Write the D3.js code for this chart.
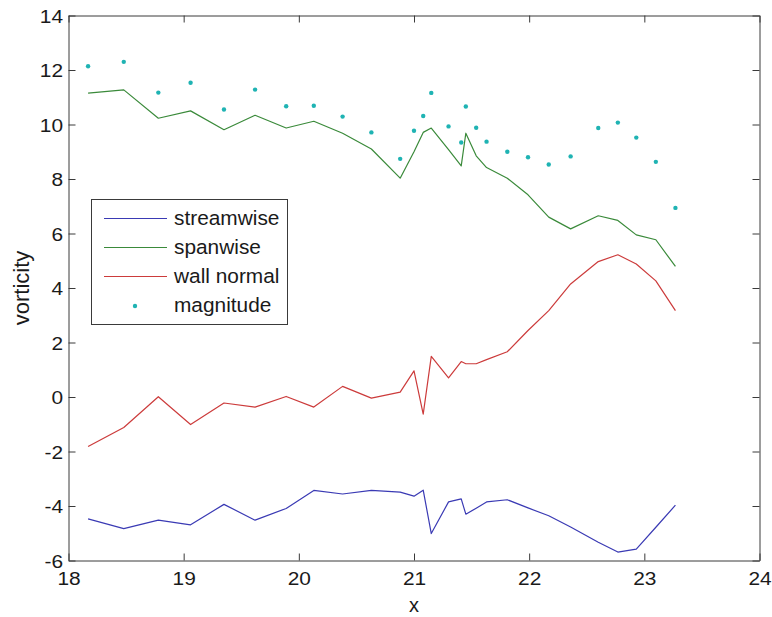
<!DOCTYPE html>
<html>
<head>
<meta charset="utf-8">
<script src="https://d3js.org/d3.v7.min.js"></script>
<style>
  html, body { margin: 0; padding: 0; background: #fff; }
  svg { display: block; }
  text { font-family: "Liberation Sans", Arial, sans-serif; fill: #1a1a1a; }
</style>
</head>
<body>
<svg id="chart" width="772" height="617"></svg>
<script>
// ---- data ----
const xValues = [18.17, 18.48, 18.78, 19.06, 19.35, 19.62, 19.89, 20.13, 20.38, 20.63, 20.88, 21.00, 21.08, 21.15,
                 21.30, 21.41, 21.45, 21.54, 21.63, 21.81, 21.99, 22.17, 22.36, 22.60, 22.77, 22.93, 23.10, 23.27];
const streamwise = [-4.47, -4.83, -4.52, -4.69, -3.94, -4.52, -4.09, -3.43, -3.56, -3.43, -3.49, -3.64, -3.42, -5.01,
                    -3.85, -3.74, -4.30, -4.08, -3.85, -3.77, -4.07, -4.36, -4.77, -5.33, -5.69, -5.58, -4.78, -3.97];
const spanwise = [11.15, 11.27, 10.23, 10.50, 9.81, 10.34, 9.87, 10.12, 9.68, 9.10, 8.03, 9.00, 9.71, 9.87,
                  9.08, 8.48, 9.68, 8.85, 8.42, 8.03, 7.42, 6.60, 6.17, 6.65, 6.48, 5.95, 5.77, 4.79];
const wallNormal = [-1.82, -1.12, 0.01, -1.01, -0.22, -0.37, 0.02, -0.37, 0.39, -0.04, 0.18, 0.96, -0.63, 1.49,
                    0.70, 1.30, 1.22, 1.22, 1.37, 1.66, 2.44, 3.17, 4.15, 4.97, 5.22, 4.88, 4.26, 3.17];
const magnitude = [12.14, 12.30, 11.17, 11.53, 10.55, 11.28, 10.67, 10.69, 10.29, 9.71, 8.74, 9.77, 10.31, 11.16,
                   9.93, 9.34, 10.66, 9.88, 9.37, 9.00, 8.80, 8.53, 8.83, 9.87, 10.07, 9.52, 8.63, 6.94];
const xTicks = [18, 19, 20, 21, 22, 23, 24];
const yTicks = [-6, -4, -2, 0, 2, 4, 6, 8, 10, 12, 14];
const seriesNames = ["streamwise", "spanwise", "wall normal", "magnitude"];

// ---- layout ----
const svg = d3.select("#chart");
const L = 68.5, R = 759.5, T = 15.5, B = 560.5;
const x = d3.scaleLinear().domain([18, 24]).range([L, R]);
const y = d3.scaleLinear().domain([-6, 14]).range([B, T]);
const axisColor = "#3a3a3a";
const stretch = 1.13;
const plainFormat = d => String(d);   // hyphen-minus like the reference

function styleAxis(g) {
  g.selectAll("path.domain").attr("stroke", axisColor).attr("stroke-width", 1);
  g.selectAll(".tick line").attr("stroke", axisColor).attr("stroke-width", 1);
}

// box axes (ticks inward)
const gBottom = svg.append("g").attr("transform", `translate(0,${B})`)
  .call(d3.axisBottom(x).tickValues(xTicks).tickSizeInner(-7).tickSizeOuter(0).tickPadding(11).tickFormat(plainFormat));
const gTop = svg.append("g").attr("transform", `translate(0,${T})`)
  .call(d3.axisTop(x).tickValues(xTicks).tickSizeInner(-7).tickSizeOuter(0).tickFormat(""));
const gLeft = svg.append("g").attr("transform", `translate(${L},0)`)
  .call(d3.axisLeft(y).tickValues(yTicks).tickSizeInner(-7).tickSizeOuter(0).tickPadding(6).tickFormat(plainFormat));
const gRight = svg.append("g").attr("transform", `translate(${R},0)`)
  .call(d3.axisRight(y).tickValues(yTicks).tickSizeInner(-7).tickSizeOuter(0).tickFormat(""));
[gBottom, gTop, gLeft, gRight].forEach(styleAxis);

gBottom.selectAll(".tick text")
  .attr("font-family", "Liberation Sans, Arial, sans-serif")
  .attr("font-size", 18.5).attr("fill", "#1a1a1a")
  .attr("y", 11).attr("dy", "0.71em")
  .attr("transform", `scale(${stretch},1)`);
gLeft.selectAll(".tick text")
  .attr("font-family", "Liberation Sans, Arial, sans-serif")
  .attr("font-size", 18.5).attr("fill", "#1a1a1a")
  .attr("x", -5.5 / stretch).attr("dy", "0.36em")
  .attr("transform", `scale(${stretch},1)`);

// axis labels
svg.append("text").attr("x", (L + R) / 2).attr("y", 612)
  .attr("text-anchor", "middle").attr("font-size", 20).text("x");
svg.append("text")
  .attr("transform", `translate(29,${(T + B) / 2}) rotate(-90)`)
  .attr("text-anchor", "middle").attr("font-size", 22).text("vorticity");

// ---- series ----
const colors = {
  streamwise: "#3a3ab4",
  spanwise: "#3a8a3a",
  wallNormal: "#cc3b3b",
  magnitude: "#1fb3b3"
};
const line = d3.line().x((d, i) => x(xValues[i])).y(d => y(d));
const plot = svg.append("g");
[[streamwise, colors.streamwise], [spanwise, colors.spanwise], [wallNormal, colors.wallNormal]].forEach(([data, c]) => {
  plot.append("path").datum(data).attr("d", line)
    .attr("fill", "none").attr("stroke", c).attr("stroke-width", 1.2).attr("stroke-linejoin", "round");
});
plot.selectAll("circle.mag").data(magnitude).join("circle")
  .attr("class", "mag")
  .attr("cx", (d, i) => x(xValues[i])).attr("cy", d => y(d))
  .attr("r", 2.2).attr("fill", colors.magnitude);

// ---- legend ----
const lg = svg.append("g");
lg.append("rect").attr("x", 91.5).attr("y", 199.5).attr("width", 196).attr("height", 125)
  .attr("fill", "#fff").attr("stroke", axisColor).attr("stroke-width", 1);
const legendY = [218.5, 247.5, 276.5, 306];
const legendColors = [colors.streamwise, colors.spanwise, colors.wallNormal, colors.magnitude];
seriesNames.forEach((name, i) => {
  if (i < 3) {
    lg.append("line").attr("x1", 104).attr("x2", 167).attr("y1", legendY[i]).attr("y2", legendY[i])
      .attr("stroke", legendColors[i]).attr("stroke-width", 1.2);
  } else {
    lg.append("circle").attr("cx", 135).attr("cy", legendY[i]).attr("r", 2.2).attr("fill", legendColors[i]);
  }
  lg.append("text").attr("x", 174 / 1.07).attr("y", legendY[i]).attr("dy", "0.33em")
    .attr("transform", "scale(1.07,1)")
    .attr("font-size", 19.5).text(name);
});
</script>
</body>
</html>
